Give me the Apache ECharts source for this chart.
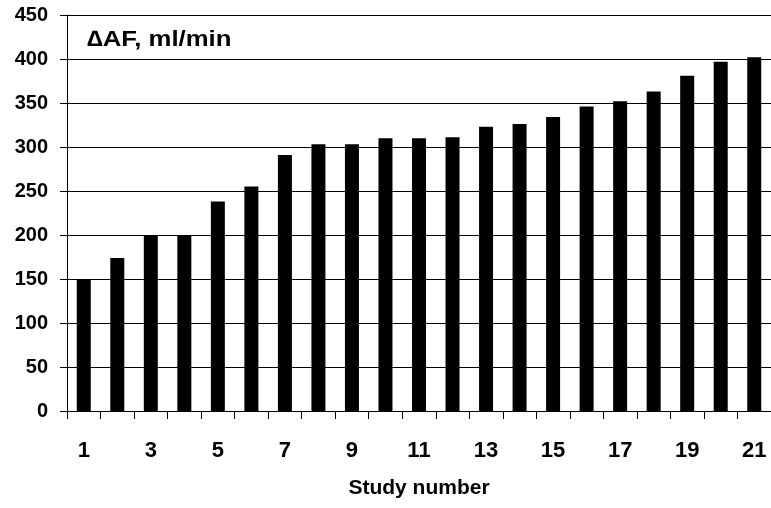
<!DOCTYPE html>
<html>
<head>
<meta charset="utf-8">
<script src="https://cdn.jsdelivr.net/npm/echarts@6/dist/echarts.min.js"></script>
<style>html,body{margin:0;padding:0;background:#fff;}#chart{width:771px;height:508px;}</style>
</head>
<body>
<div id="chart"></div>
<script>
var categories = ['1','2','3','4','5','6','7','8','9','10','11','12','13','14','15','16','17','18','19','20','21'];
var values = [150, 174, 200, 200, 238, 255, 291, 303, 303, 310, 310, 311, 323, 326, 334, 346, 352, 363, 381, 397, 402];
var yTicks = { min: 0, max: 450, interval: 50 };
var titleText = '\u2206AF, ml/min';
var xName = 'Study number';

var FF = 'Liberation Sans';
var chart = echarts.init(document.getElementById('chart'), null, { renderer: 'canvas' });
chart.setOption({
  animation: false,
  backgroundColor: '#ffffff',
  grid: { left: 67, right: 0, top: 15, bottom: 97, containLabel: false },
  graphic: [{
    type: 'text', left: 87, top: 29, scaleX: 1.17, originX: 0,
    style: { text: titleText, fontFamily: FF, fontWeight: 'bold', fontSize: 22, fill: '#000' }
  }],
  xAxis: {
    type: 'category', data: categories, boundaryGap: true,
    name: xName, nameLocation: 'middle', nameGap: 67,
    nameTextStyle: { fontFamily: FF, fontWeight: 'bold', fontSize: 21, color: '#000' },
    axisLine: { show: true, lineStyle: { color: '#000', width: 1 } },
    axisTick: { show: true, alignWithLabel: false, length: 8, lineStyle: { color: '#000' }, interval: 0 },
    axisLabel: { interval: 1, margin: 29, fontFamily: FF, fontWeight: 'bold', fontSize: 22, color: '#000' },
    splitLine: { show: false }
  },
  yAxis: {
    type: 'value', min: yTicks.min, max: yTicks.max, interval: yTicks.interval,
    axisLine: { show: true, lineStyle: { color: '#000', width: 1 } },
    axisTick: { show: true, length: 7, lineStyle: { color: '#000' } },
    axisLabel: { margin: 19, fontFamily: FF, fontWeight: 'bold', fontSize: 20, color: '#000' },
    splitLine: { show: true, lineStyle: { color: '#000', width: 1 } }
  },
  series: [{
    type: 'bar', data: values, barWidth: 14,
    itemStyle: { color: '#000' }
  }]
});
</script>
</body>
</html>
